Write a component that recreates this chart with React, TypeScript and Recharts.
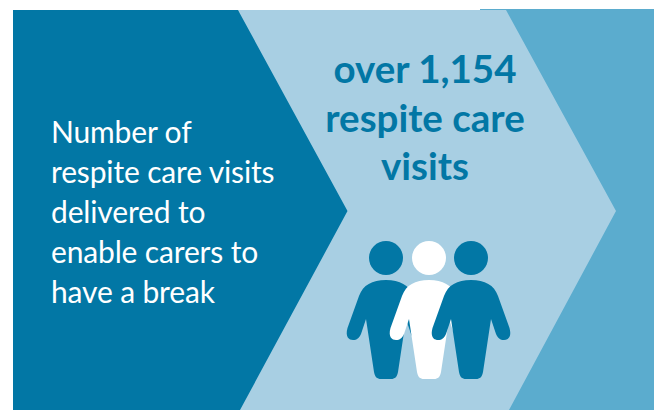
import { Area, ComposedChart, Scatter, XAxis, YAxis, ZAxis } from 'recharts';

const WIDTH = 654;
const HEIGHT = 410;

const DARK = '#0277a5';
const LIGHT = '#a8cfe3';
const MID = '#5bacce';

// chevron outlines as [x, top, bottom] rows
const backBand = [
  { x: 480, range: [9, 410] },
  { x: 654, range: [9, 410] },
];
const lightChevron = [
  { x: 13, range: [10, 410] },
  { x: 506, range: [10, 410] },
  { x: 509, range: [15.5, 410] },
  { x: 616, range: [211, 211] },
];
const darkChevron = [
  { x: 13, range: [10, 410] },
  { x: 238, range: [10, 410] },
  { x: 240, range: [13.7, 410] },
  { x: 347.5, range: [211, 211] },
];

const captionLines = [
  'Number of',
  'respite care visits',
  'delivered to',
  'enable carers to',
  'have a break',
];
const captionBaselines = [143, 183, 223, 263, 303];

const headlineLines = ['over 1,154', 'respite care', 'visits'];
const headlineBaselines = [83, 132, 180];

const peopleX = [386, 429, 471];
const peopleColors = [DARK, '#ffffff', DARK];
const shoulderY = 280;

const captionData = captionLines.map((text, i) => ({ x: 51, y: captionBaselines[i], text }));
const headlineData = headlineLines.map((text, i) => ({ x: 425, y: headlineBaselines[i], text }));

const FONT = 'Lato, "Noto Sans", sans-serif';

function CaptionText({ cx, cy, payload }: any) {
  return (
    <text x={cx} y={cy} fill="#ffffff" fontFamily={FONT} fontSize={30} letterSpacing={-0.15}>
      {payload.text}
    </text>
  );
}

function HeadlineText({ cx, cy, payload }: any) {
  return (
    <text x={cx} y={cy} fill={DARK} fontFamily={FONT} fontSize={38.5} fontWeight={700} textAnchor="middle">
      {payload.text}
    </text>
  );
}

// one figure: round head above a body with short arms, anchored at the top of the shoulders
function Person({ cx, cy, color }: { cx: number; cy: number; color: string }) {
  const d = [
    'M 0 0',
    'C 14 0 23 5 27 16',
    'L 38.5 48',
    'C 41 57 37 60 33 60',
    'C 29 60 27 58 25 54',
    'L 20 39',
    'L 12 92',
    'C 11 97 9 99 5 99',
    'L -5 99',
    'C -9 99 -11 97 -12 92',
    'L -20 39',
    'L -25 54',
    'C -27 58 -29 60 -33 60',
    'C -37 60 -41 57 -38.5 48',
    'L -27 16',
    'C -23 5 -14 0 0 0',
    'Z',
  ].join(' ');
  return (
    <g>
      <circle cx={cx} cy={cy - 22} r={17} fill={color} />
      <path d={d} transform={`translate(${cx} ${cy})`} fill={color} />
    </g>
  );
}

export default function App() {
  return (
    <div style={{ position: 'absolute', left: 0, top: 0, width: WIDTH, height: HEIGHT, background: '#fff' }}>
      <ComposedChart width={WIDTH} height={HEIGHT} margin={{ top: 0, right: 0, bottom: 0, left: 0 }}>
        <XAxis type="number" dataKey="x" domain={[0, WIDTH]} hide />
        <YAxis type="number" domain={[0, HEIGHT]} reversed hide />
        <ZAxis range={[100, 100]} />
        <Area data={backBand} dataKey="range" type="linear" fill={MID} fillOpacity={1} stroke="none" dot={false} activeDot={false} isAnimationActive={false} />
        <Area data={lightChevron} dataKey="range" type="linear" fill={LIGHT} fillOpacity={1} stroke="none" dot={false} activeDot={false} isAnimationActive={false} />
        <Area data={darkChevron} dataKey="range" type="linear" fill={DARK} fillOpacity={1} stroke="none" dot={false} activeDot={false} isAnimationActive={false} />
        <Scatter data={captionData} dataKey="y" shape={CaptionText} isAnimationActive={false} />
        <Scatter data={headlineData} dataKey="y" shape={HeadlineText} isAnimationActive={false} />
        {peopleX.map((x, i) => (
          <Scatter
            key={x}
            data={[{ x, y: shoulderY }]}
            dataKey="y"
            shape={(props: any) => <Person cx={props.cx} cy={props.cy} color={peopleColors[i]} />}
            isAnimationActive={false}
          />
        ))}
      </ComposedChart>
    </div>
  );
}
